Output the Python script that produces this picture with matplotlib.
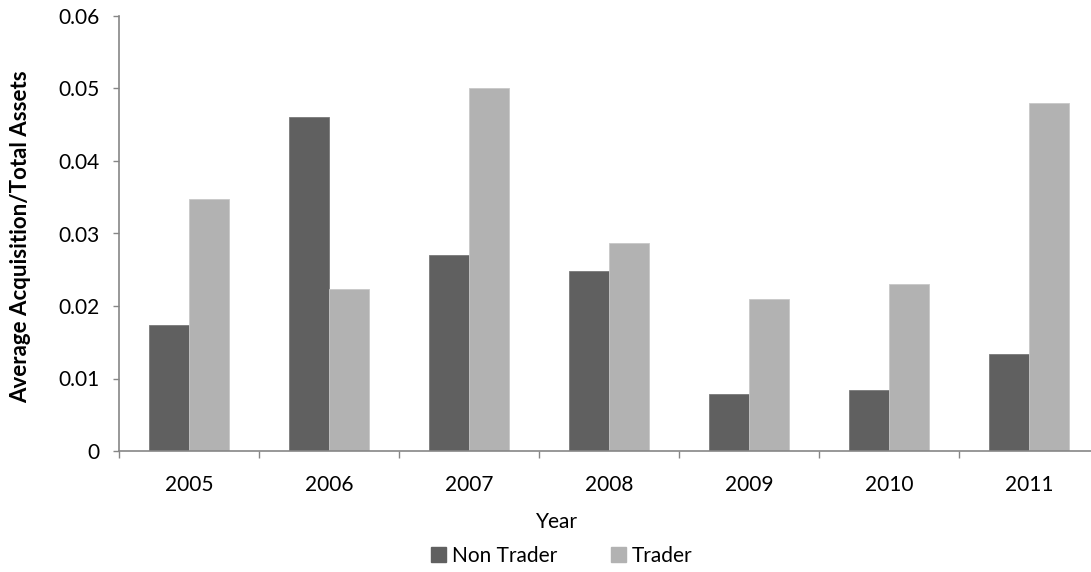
import numpy as np
import matplotlib.pyplot as plt
from matplotlib.patches import Patch

years = ['2005', '2006', '2007', '2008', '2009', '2010', '2011']
non_trader = [0.0174, 0.0461, 0.0271, 0.0248, 0.0079, 0.0084, 0.0134]
trader = [0.0347, 0.0224, 0.0501, 0.0287, 0.0209, 0.0230, 0.0480]

plt.rcParams['font.family'] = ['Lato', 'DejaVu Sans']
W, H = 1091, 572
fig = plt.figure(figsize=(W / 100, H / 100), dpi=100)
ax = fig.add_axes([119 / W, (H - 451) / H, 980 / W, 435 / H])

dark = '#606060'
light = '#b2b2b2'
axis_col = '#868686'
fs = 15
bw = 0.2857
x = np.arange(len(years)) + 0.5
ax.bar(x - bw / 2, non_trader, bw, color=dark, edgecolor='#7a7a7a', linewidth=0.6)
ax.bar(x + bw / 2, trader, bw, color=light, edgecolor='#c8c8c8', linewidth=0.6)

ax.set_xlim(0, len(years))
ax.set_ylim(0, 0.06)
ax.set_yticks(np.arange(0, 0.061, 0.01))
ax.set_yticklabels(['0', '0.01', '0.02', '0.03', '0.04', '0.05', '0.06'])

# category boundaries get the tick marks, labels sit in between
ax.set_xticks(np.arange(len(years) + 1))
ax.set_xticklabels([])
ax.set_xticks(x, minor=True)
ax.set_xticklabels(years, minor=True)
ax.tick_params(axis='x', which='major', length=5, width=1, color=axis_col, direction='out')
ax.tick_params(axis='x', which='minor', length=0, pad=17, labelsize=fs)
ax.tick_params(axis='y', length=4, width=1, color=axis_col, pad=10, labelsize=fs)

for s in ['top', 'right']:
    ax.spines[s].set_visible(False)
for s in ['left', 'bottom']:
    ax.spines[s].set_color(axis_col)
    ax.spines[s].set_linewidth(1.2)

fig.text(21 / W, 1 - 237 / H, 'Average Acquisition/Total Assets', rotation=90,
         ha='center', va='center', fontsize=16, fontweight='bold')
fig.text(557 / W, 1 - 522 / H, 'Year', ha='center', va='center', fontsize=fs)

handles = [Patch(color=dark, label='Non Trader'), Patch(color=light, label='Trader')]
fig.legend(handles=handles, loc='center', bbox_to_anchor=(562 / W, 1 - 556 / H),
           ncol=2, frameon=False, fontsize=fs, handlelength=0.7, handleheight=0.7,
           handletextpad=0.3, columnspacing=2.6)

fig.savefig('out.png', dpi=100)
